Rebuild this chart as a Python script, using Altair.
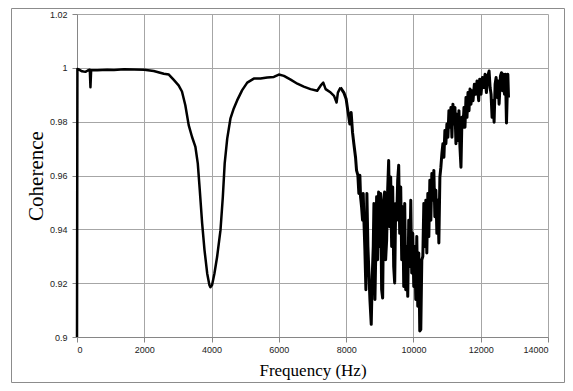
import altair as alt
import pandas as pd

# ---- data ----
# smooth part (0 - 7.8 kHz)
freq_smooth = [0, 12, 50, 150, 250, 320, 380, 400, 420, 600,
               900, 1100, 1400, 1700, 2000, 2280, 2580, 2730, 2870, 3020,
               3120, 3220, 3320, 3420, 3520, 3590, 3650, 3720, 3790, 3870,
               3935, 3965, 4015, 4085, 4165, 4265, 4335, 4390, 4465, 4560,
               4660, 4760, 4910, 5060, 5255, 5455, 5655, 5850, 6000, 6150,
               6350, 6550, 6740, 6940, 7140, 7260, 7320, 7390, 7540, 7640,
               7715, 7755, 7831]
coh_smooth = [0.9, 0.9996, 0.9994, 0.9987, 0.9985, 0.9990, 0.9993, 0.9928, 0.9991, 0.9991,
              0.9993, 0.9992, 0.9995, 0.9994, 0.9993, 0.9988, 0.9978, 0.9975, 0.9956, 0.9935,
              0.9912, 0.9861, 0.9787, 0.9743, 0.9706, 0.9645, 0.9545, 0.9422, 0.9323, 0.9236,
              0.9193, 0.9185, 0.9193, 0.9236, 0.9298, 0.9397, 0.9521, 0.9645, 0.9737, 0.9811,
              0.9849, 0.9879, 0.9917, 0.9945, 0.9960, 0.9960, 0.9964, 0.9966, 0.9975, 0.9970,
              0.9956, 0.9941, 0.9930, 0.9921, 0.9915, 0.9937, 0.9945, 0.9921, 0.9908, 0.9896,
              0.9871, 0.9908, 0.9927]

# noisy descent (7.8 - 8.9 kHz)
freq_a = [7831, 7931, 8000, 8050, 8110, 8149, 8189, 8229, 8279, 8309,
          8348, 8378, 8408, 8428, 8458, 8488, 8508, 8528, 8557, 8587,
          8617, 8647, 8677, 8707, 8746, 8776, 8806, 8826, 8856, 8886]
coh_a = [0.9927, 0.9908, 0.9884, 0.9841, 0.9791, 0.9834, 0.9761, 0.9718, 0.9668, 0.9619,
         0.9601, 0.9533, 0.9601, 0.9521, 0.9484, 0.9434, 0.9533, 0.9434, 0.9324, 0.9176,
         0.9533, 0.9336, 0.9238, 0.9139, 0.9047, 0.9225, 0.9336, 0.9496, 0.9139, 0.9349]

# trough (8.9 - 9.9 kHz)
freq_b = [8906, 8935, 8965, 8995, 9025, 9055, 9085, 9115, 9144, 9174,
          9204, 9234, 9264, 9294, 9324, 9353, 9383, 9413, 9443, 9473,
          9503, 9532, 9562, 9592, 9622, 9652, 9682, 9712, 9741, 9771,
          9801, 9831, 9861, 9891]
coh_b = [0.9521, 0.9287, 0.9539, 0.9336, 0.9533, 0.9176, 0.9145, 0.9508, 0.9539, 0.9287,
         0.9361, 0.9545, 0.9656, 0.9410, 0.9594, 0.9336, 0.9557, 0.9262, 0.9201, 0.9496,
         0.9434, 0.9582, 0.9638, 0.9385, 0.9557, 0.9287, 0.9484, 0.9188, 0.9496, 0.9176,
         0.9336, 0.9151, 0.9434, 0.9262]

# trough and rise (9.9 - 10.9 kHz)
freq_c = [9921, 9950, 9980, 10010, 10040, 10070, 10100, 10129, 10159, 10189,
          10219, 10249, 10279, 10309, 10338, 10368, 10398, 10428, 10458, 10488,
          10518, 10547, 10577, 10607, 10637, 10667, 10697, 10726, 10756, 10786,
          10816, 10846, 10876, 10906]
coh_c = [0.9508, 0.9238, 0.9385, 0.9188, 0.9336, 0.9139, 0.9373, 0.9114, 0.9312, 0.9022,
         0.9028, 0.9287, 0.9299, 0.9496, 0.9336, 0.9508, 0.9312, 0.9533, 0.9373, 0.9582,
         0.9434, 0.9607, 0.9508, 0.9619, 0.9447, 0.9545, 0.9385, 0.9508, 0.9349, 0.9594,
         0.9631, 0.9681, 0.9718, 0.9668]

# recovery (10.9 - 11.9 kHz)
freq_d = [10935, 10965, 10995, 11025, 11055, 11085, 11115, 11144, 11174, 11204,
          11234, 11264, 11294, 11323, 11353, 11383, 11413, 11443, 11473, 11503,
          11532, 11562, 11592, 11622, 11652, 11682, 11711, 11741, 11771, 11811,
          11851]
coh_d = [0.9767, 0.9718, 0.9791, 0.9742, 0.9841, 0.9779, 0.9853, 0.9742, 0.9865, 0.9791,
         0.9853, 0.9718, 0.9828, 0.9730, 0.9841, 0.9705, 0.9631, 0.9816, 0.9779, 0.9853,
         0.9779, 0.9890, 0.9816, 0.9908, 0.9841, 0.9921, 0.9865, 0.9915, 0.9878, 0.9939,
         0.9902]

# top end (11.9 - 12.8 kHz)
freq_e = [11891, 11940, 11970, 12010, 12050, 12090, 12129, 12169, 12209, 12249,
          12279, 12308, 12338, 12368, 12398, 12428, 12458, 12488, 12517, 12547,
          12587, 12617, 12647, 12677, 12706, 12736, 12766, 12786, 12806, 12826]
coh_e = [0.9951, 0.9878, 0.9958, 0.9902, 0.9964, 0.9927, 0.9976, 0.9908, 0.9970, 0.9988,
         0.9927, 0.9902, 0.9816, 0.9878, 0.9798, 0.9939, 0.9964, 0.9890, 0.9951, 0.9865,
         0.9970, 0.9982, 0.9915, 0.9976, 0.9902, 0.9976, 0.9795, 0.9890, 0.9976, 0.9890]

x_ticks = [0, 2000, 4000, 6000, 8000, 10000, 12000, 14000]
y_ticks = [0.9, 0.92, 0.94, 0.96, 0.98, 1.0, 1.02]

df_smooth = pd.DataFrame({"freq": freq_smooth, "coh": coh_smooth})
df_noisy = pd.DataFrame({
    "freq": freq_a + freq_b + freq_c + freq_d + freq_e,
    "coh": coh_a + coh_b + coh_c + coh_d + coh_e,
})

W, H = 471, 323
PAD = {"left": 69, "top": 6, "right": 17, "bottom": 46}

x_enc = alt.X("freq:Q",
              scale=alt.Scale(domain=[0, 14000], nice=False, zero=False),
              axis=alt.Axis(values=x_ticks, format="d", title="Frequency (Hz)",
                            titleFont="Liberation Serif", titleFontSize=17,
                            titleFontWeight="normal", titleColor="black",
                            titleX=W / 2, titleY=38, titleBaseline="alphabetic",
                            titleAlign="center", labelPadding=3))
y_enc = alt.Y("coh:Q",
              scale=alt.Scale(domain=[0.9, 1.02], nice=False, zero=False),
              axis=alt.Axis(values=y_ticks, format="~g", title="Coherence",
                            titleFont="Liberation Serif", titleFontSize=21,
                            titleFontWeight="normal", titleColor="black",
                            titleAngle=270, titleX=-35, titleY=H / 2,
                            titleBaseline="alphabetic", titleAlign="center",
                            labelPadding=5))

line_smooth = alt.Chart(df_smooth).mark_line(
    color="black", strokeWidth=2.5, clip=False, strokeJoin="round"
).encode(x=x_enc, y=y_enc)

line_noisy = alt.Chart(df_noisy).mark_line(
    color="black", strokeWidth=3, clip=False, strokeJoin="round"
).encode(x="freq:Q", y="coh:Q")

frame = alt.Chart(pd.DataFrame({"k": [0]})).mark_rect(
    fillOpacity=0, stroke="#8c8c8c", strokeWidth=1, clip=False
).encode(
    x=alt.value(-65.5), x2=alt.value(487.5),
    y=alt.value(-5.5), y2=alt.value(368.5),
)

chart = alt.layer(frame, line_smooth, line_noisy).properties(
    width=W, height=H, padding=PAD,
    autosize=alt.AutoSizeParams(type="none"),
    background="white",
).configure_view(stroke=None).configure_axis(
    grid=True, gridColor="#a6a6a6", gridWidth=1,
    domainColor="#868686", tickColor="#868686", tickSize=5,
    labelFont="Liberation Sans", labelFontSize=9, labelColor="#222222",
)

chart.save("out.html", embed_options={"renderer": "svg", "actions": False})
